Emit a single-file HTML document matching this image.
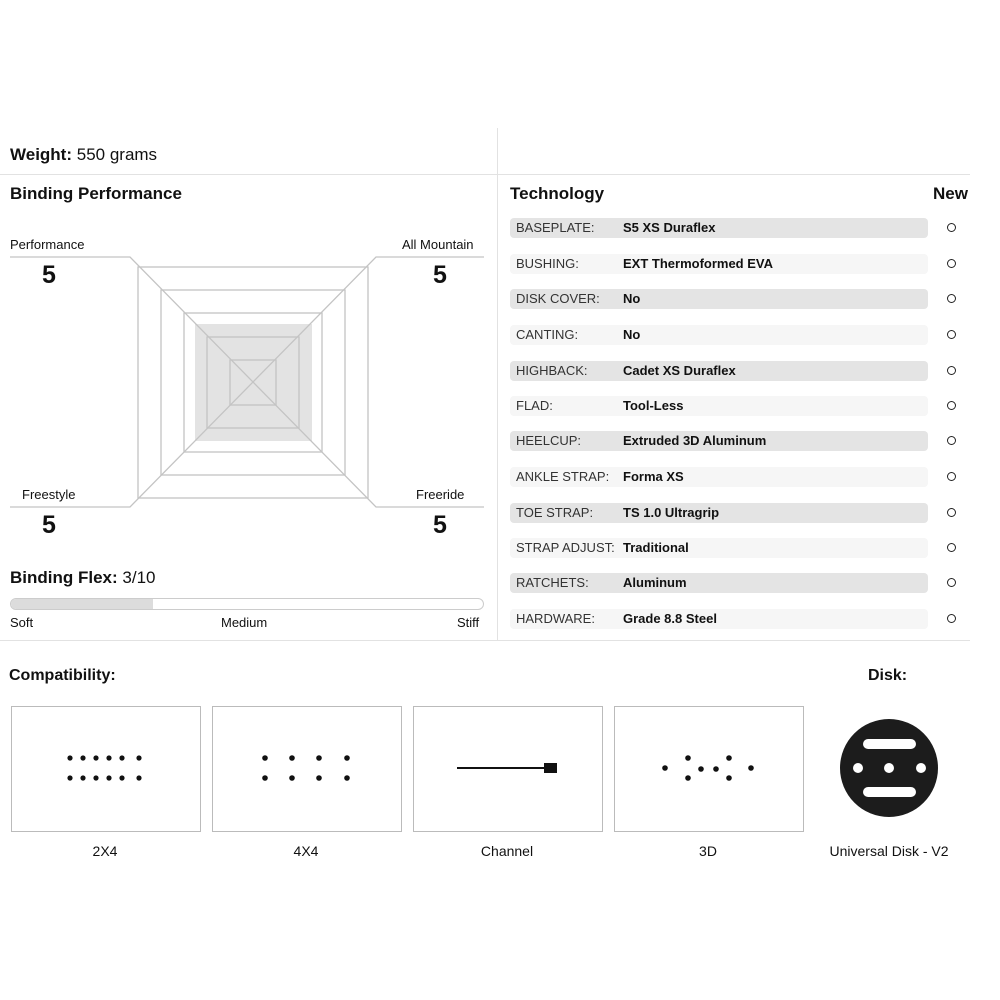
<!DOCTYPE html>
<html><head><style>
body{margin:0;width:1000px;height:1000px;background:#fff;font-family:"Liberation Sans",sans-serif;color:#111;position:relative;overflow:hidden}
.a{position:absolute;white-space:nowrap}
.b{font-weight:bold}
.row{position:absolute;left:510px;width:418px;height:20px;border-radius:4px;font-size:13px;line-height:20px}
.row span{position:absolute;left:6px;color:#333}
.row b{position:absolute;left:113px}
.c{position:absolute;left:947px;width:7px;height:7px;border:1.5px solid #222;border-radius:50%}
.box{position:absolute;top:706px;width:188px;height:124px;border:1px solid #bbb}
.lb{position:absolute;top:843px;font-size:14px;text-align:center;width:190px}
</style></head><body>
<div class="a" style="left:497px;top:128px;width:1px;height:512px;background:#e2e2e2"></div>
<div class="a" style="left:0;top:174px;width:970px;height:1px;background:#e2e2e2"></div>
<div class="a" style="left:0;top:640px;width:970px;height:1px;background:#e2e2e2"></div>
<div class="a" style="left:10px;top:145px;font-size:17px"><b>Weight:</b> 550 grams</div>
<div class="a b" style="left:10px;top:184px;font-size:17px">Binding Performance</div>
<div class="a" style="left:10px;top:237px;font-size:13px">Performance</div>
<div class="a" style="left:402px;top:237px;font-size:13px">All Mountain</div>
<div class="a" style="left:22px;top:487px;font-size:13px">Freestyle</div>
<div class="a" style="left:416px;top:487px;font-size:13px">Freeride</div>
<div class="a b" style="left:42px;top:261px;font-size:25px">5</div>
<div class="a b" style="left:433px;top:261px;font-size:25px">5</div>
<div class="a b" style="left:42px;top:511px;font-size:25px">5</div>
<div class="a b" style="left:433px;top:511px;font-size:25px">5</div>
<svg class="a" style="left:0;top:0" width="500" height="640">
<g fill="none" stroke="#c4c4c4" stroke-width="1.3">
<rect x="195" y="324" width="117" height="117" fill="#e3e3e3" stroke="none"/>
<rect x="138" y="267" width="230" height="231"/>
<rect x="161" y="290" width="184" height="185"/>
<rect x="184" y="313" width="138" height="139"/>
<rect x="207" y="337" width="92" height="91"/>
<rect x="230" y="360" width="46" height="45"/>
<polyline points="10,257 130,257 376,507 484,507"/>
<polyline points="484,257 376,257 130,507 10,507"/>
</g></svg>
<div class="a" style="left:10px;top:568px;font-size:17px"><b>Binding Flex:</b> 3/10</div>
<div class="a" style="left:10px;top:598px;width:472px;height:10px;border:1px solid #ccc;border-radius:6px;overflow:hidden"><div style="width:142px;height:10px;background:#dcdcdc"></div></div>
<div class="a" style="left:10px;top:615px;font-size:13px">Soft</div>
<div class="a" style="left:221px;top:615px;font-size:13px">Medium</div>
<div class="a" style="left:457px;top:615px;font-size:13px">Stiff</div>
<div class="a b" style="left:510px;top:184px;font-size:17px">Technology</div>
<div class="a b" style="left:933px;top:184px;font-size:17px">New</div>
<div class="row" style="top:218px;background:#e4e4e4"><span>BASEPLATE:</span><b>S5 XS Duraflex</b></div>
<div class="row" style="top:254px;background:#f6f6f6"><span>BUSHING:</span><b>EXT Thermoformed EVA</b></div>
<div class="row" style="top:289px;background:#e4e4e4"><span>DISK COVER:</span><b>No</b></div>
<div class="row" style="top:325px;background:#f6f6f6"><span>CANTING:</span><b>No</b></div>
<div class="row" style="top:361px;background:#e4e4e4"><span>HIGHBACK:</span><b>Cadet XS Duraflex</b></div>
<div class="row" style="top:396px;background:#f6f6f6"><span>FLAD:</span><b>Tool-Less</b></div>
<div class="row" style="top:431px;background:#e4e4e4"><span>HEELCUP:</span><b>Extruded 3D Aluminum</b></div>
<div class="row" style="top:467px;background:#f6f6f6"><span>ANKLE STRAP:</span><b>Forma XS</b></div>
<div class="row" style="top:503px;background:#e4e4e4"><span>TOE STRAP:</span><b>TS 1.0 Ultragrip</b></div>
<div class="row" style="top:538px;background:#f6f6f6"><span>STRAP ADJUST:</span><b>Traditional</b></div>
<div class="row" style="top:573px;background:#e4e4e4"><span>RATCHETS:</span><b>Aluminum</b></div>
<div class="row" style="top:609px;background:#f6f6f6"><span>HARDWARE:</span><b>Grade 8.8 Steel</b></div>
<div class="c" style="top:223px"></div><div class="c" style="top:259px"></div><div class="c" style="top:294px"></div><div class="c" style="top:330px"></div><div class="c" style="top:366px"></div><div class="c" style="top:401px"></div><div class="c" style="top:436px"></div><div class="c" style="top:472px"></div><div class="c" style="top:508px"></div><div class="c" style="top:543px"></div><div class="c" style="top:578px"></div><div class="c" style="top:614px"></div>
<div class="a b" style="left:9px;top:667px;font-size:16px">Compatibility:</div>
<div class="a b" style="left:868px;top:667px;font-size:16px">Disk:</div>
<div class="box" style="left:11px"></div><div class="box" style="left:212px"></div><div class="box" style="left:413px"></div><div class="box" style="left:614px"></div>
<svg class="a" style="left:0;top:0" width="1000" height="1000"><g fill="#111">
<circle cx="70" cy="758" r="2.6"/><circle cx="83" cy="758" r="2.6"/><circle cx="96" cy="758" r="2.6"/><circle cx="109" cy="758" r="2.6"/><circle cx="122" cy="758" r="2.6"/><circle cx="139" cy="758" r="2.6"/>
<circle cx="70" cy="778" r="2.6"/><circle cx="83" cy="778" r="2.6"/><circle cx="96" cy="778" r="2.6"/><circle cx="109" cy="778" r="2.6"/><circle cx="122" cy="778" r="2.6"/><circle cx="139" cy="778" r="2.6"/>
<circle cx="265" cy="758" r="2.8"/><circle cx="292" cy="758" r="2.8"/><circle cx="319" cy="758" r="2.8"/><circle cx="347" cy="758" r="2.8"/>
<circle cx="265" cy="778" r="2.8"/><circle cx="292" cy="778" r="2.8"/><circle cx="319" cy="778" r="2.8"/><circle cx="347" cy="778" r="2.8"/>
<rect x="457" y="767" width="88" height="2"/><rect x="544" y="763" width="13" height="10"/>
<circle cx="665" cy="768" r="2.8"/><circle cx="688" cy="758" r="2.8"/><circle cx="688" cy="778" r="2.8"/><circle cx="701" cy="769" r="2.8"/><circle cx="716" cy="769" r="2.8"/><circle cx="729" cy="758" r="2.8"/><circle cx="729" cy="778" r="2.8"/><circle cx="751" cy="768" r="2.8"/>
<circle cx="889" cy="768" r="49" fill="#1c1c1c"/>
<rect x="863" y="739" width="53" height="10" rx="5" fill="#fff"/>
<rect x="863" y="787" width="53" height="10" rx="5" fill="#fff"/>
<circle cx="889" cy="768" r="5" fill="#fff"/><circle cx="858" cy="768" r="5" fill="#fff"/><circle cx="921" cy="768" r="5" fill="#fff"/>
</g></svg>
<div class="lb" style="left:10px">2X4</div>
<div class="lb" style="left:211px">4X4</div>
<div class="lb" style="left:412px">Channel</div>
<div class="lb" style="left:613px">3D</div>
<div class="lb" style="left:794px">Universal Disk - V2</div>
</body></html>
